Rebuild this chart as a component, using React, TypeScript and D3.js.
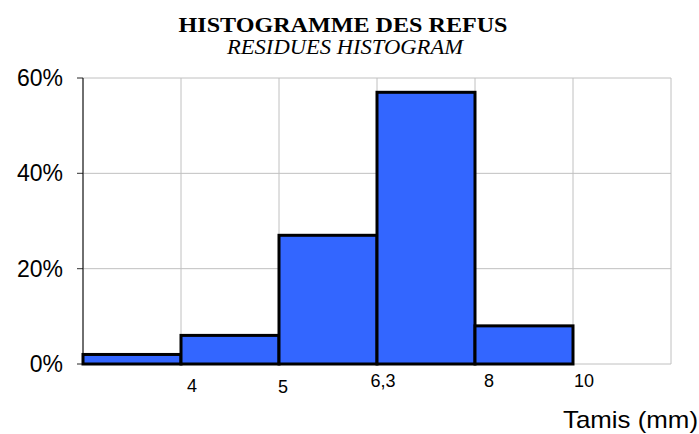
import React from "react";
import * as d3 from "d3";

const binEdges = ["", "4", "5", "6,3", "8", "10", ""];
const percentValues = [2, 6, 27, 57, 8];
const yTicks = [0, 20, 40, 60];
const labelNudge = [
  { dx: 11, dy: 28 },
  { dx: 4, dy: 29 },
  { dx: 6, dy: 23 },
  { dx: 14, dy: 23 },
  { dx: 11, dy: 23 },
];

const W = 699;
const H = 434;
const M = { left: 83, right: 671, top: 78, bottom: 364 };

export default function App() {
  const x = d3.scaleLinear().domain([0, binEdges.length - 1]).range([M.left, M.right]);
  const y = d3.scaleLinear().domain([0, 60]).range([M.bottom, M.top]);
  const gridX = d3.range(0, binEdges.length);
  const shownLabels = binEdges.slice(1, 6);

  return (
    <svg width={W} height={H} style={{ position: "absolute", left: 0, top: 0, background: "#fff" }}>
      <text x={343} y={32} textAnchor="middle" fontFamily="Liberation Serif, Times New Roman, serif" fontWeight="bold" fontSize={21} textLength={329} lengthAdjust="spacingAndGlyphs">
        HISTOGRAMME DES REFUS
      </text>
      <text x={345} y={54} textAnchor="middle" fontFamily="Liberation Serif, Times New Roman, serif" fontStyle="italic" fontSize={21} textLength={236} lengthAdjust="spacingAndGlyphs">
        RESIDUES HISTOGRAM
      </text>
      {gridX.map((i) => (
        <line key={"gx" + i} x1={x(i)} x2={x(i)} y1={y(60)} y2={y(0)} stroke="#c0c0c0" strokeWidth={1} />
      ))}
      {yTicks.map((t) => (
        <line key={"gy" + t} x1={M.left - 6} x2={M.right} y1={y(t)} y2={y(t)} stroke="#c0c0c0" strokeWidth={1} />
      ))}
      {yTicks.map((t) => (
        <line key={"ty" + t} x1={M.left - 6} x2={M.left} y1={y(t)} y2={y(t)} stroke="#444" strokeWidth={1} />
      ))}
      <line x1={M.left} x2={M.left} y1={y(60)} y2={y(0)} stroke="#000" strokeWidth={1} />
      {percentValues.map((v, i) => (
        <rect
          key={"b" + i}
          x={x(i)}
          y={y(v)}
          width={x(i + 1) - x(i)}
          height={y(0) - y(v)}
          fill="#3366FF"
          stroke="#000"
          strokeWidth={3}
        />
      ))}
      {yTicks.map((t) => (
        <text key={"yl" + t} x={63} y={y(t) + 8} textAnchor="end" fontFamily="Liberation Sans, Arial, sans-serif" fontSize={23}>
          {t + "%"}
        </text>
      ))}
      {shownLabels.map((l, i) => (
        <text
          key={"xl" + i}
          x={x(i + 1) + labelNudge[i].dx}
          y={y(0) + labelNudge[i].dy}
          textAnchor="middle"
          fontFamily="Liberation Sans, Arial, sans-serif"
          fontSize={18}
        >
          {l}
        </text>
      ))}
      <text x={698} y={428} textAnchor="end" fontFamily="Liberation Sans, Arial, sans-serif" fontSize={24} textLength={135} lengthAdjust="spacingAndGlyphs">
        Tamis (mm)
      </text>
    </svg>
  );
}
